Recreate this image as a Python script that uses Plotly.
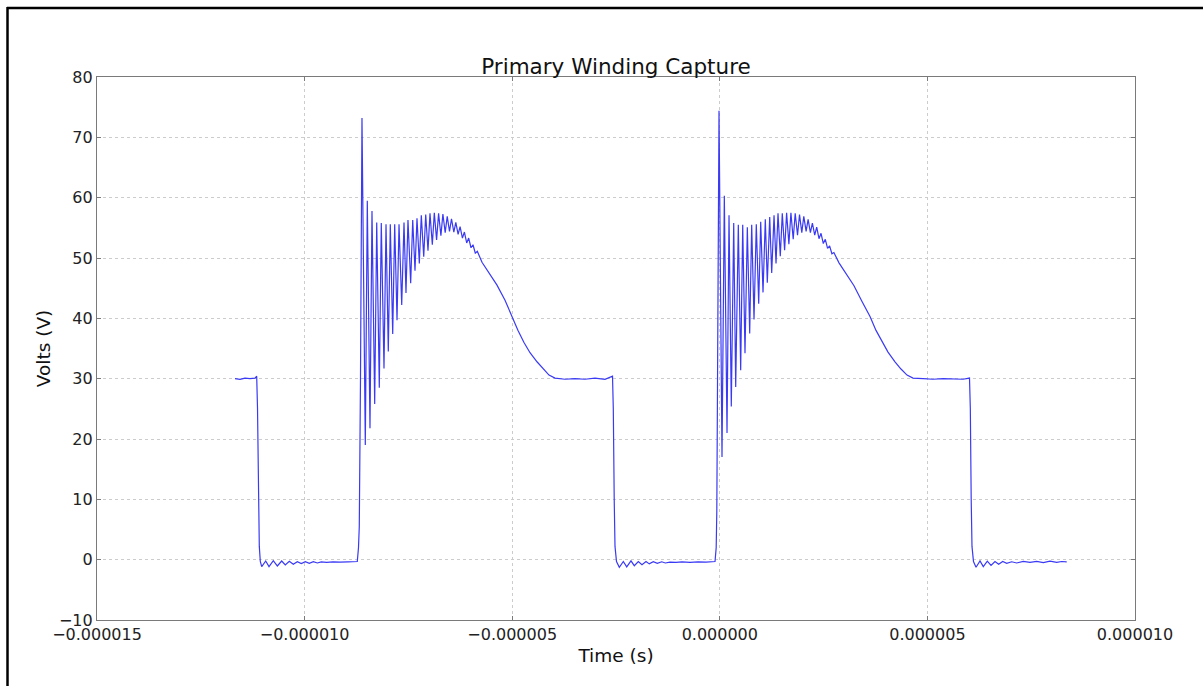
import plotly.graph_objects as go

# ---- data (time in microseconds, voltage in volts) ----
time_us = [
    -11.676, -11.556, -11.435, -11.315, -11.195, -11.154,
    -11.134, -11.115, -11.091, -11.067, -11.033,
    -10.937, -10.857, -10.754, -10.657, -10.552, -10.465, -10.368, -10.272,
    -10.176, -10.079, -9.983, -9.887, -9.790, -9.694, -9.598, -9.468,
    -9.316, -9.147, -8.955, -8.731,
    -8.702, -8.683, -8.654, -8.630, -8.618,
    -8.538, -8.490, -8.425, -8.377, -8.312, -8.263, -8.201, -8.153, -8.088,
    -8.039, -7.984, -7.936, -7.878, -7.830, -7.774, -7.726, -7.661, -7.606,
    -7.558, -7.510, -7.445, -7.396, -7.341, -7.293, -7.237, -7.189,
    -7.131, -7.083, -7.028, -6.980, -6.924, -6.876, -6.821, -6.773, -6.717,
    -6.669, -6.614, -6.565, -6.510, -6.462, -6.406, -6.358, -6.303, -6.255,
    -6.199, -6.151, -6.096, -6.048, -5.992, -5.944, -5.889, -5.840,
    -5.727, -5.535, -5.366, -5.173, -5.005, -4.860, -4.716, -4.571, -4.403,
    -4.258, -4.114, -3.969,
    -3.728, -3.487, -3.247, -3.006, -2.765, -2.584,
    -2.565, -2.543, -2.524, -2.488, -2.420,
    -2.324, -2.242, -2.139, -2.059, -1.963, -1.874, -1.777, -1.698, -1.602,
    -1.505, -1.399, -1.312, -1.199, -1.055, -0.910, -0.718, -0.525, -0.332,
    -0.115,
    -0.087, -0.072, -0.048, -0.031, -0.019,
    0.053, 0.109, 0.174, 0.222, 0.277, 0.335, 0.383, 0.446, 0.503, 0.552,
    0.607, 0.663, 0.720, 0.768, 0.824, 0.879, 0.937, 0.985, 1.041, 1.096,
    1.144, 1.202, 1.250, 1.306, 1.354, 1.402,
    1.457, 1.505, 1.561, 1.609, 1.664, 1.713, 1.768, 1.816, 1.872, 1.920,
    1.975, 2.023, 2.079, 2.127, 2.182, 2.230, 2.286, 2.334, 2.389, 2.438,
    2.493, 2.541, 2.596, 2.645, 2.700, 2.748,
    2.871, 3.064, 3.232, 3.425, 3.618, 3.762, 3.907, 4.051, 4.220, 4.364,
    4.509, 4.653,
    4.894, 5.135, 5.376, 5.617, 5.858, 6.014,
    6.034, 6.055, 6.074, 6.110, 6.171,
    6.267, 6.346, 6.443, 6.532, 6.628, 6.717, 6.814, 6.910, 7.030, 7.151,
    7.310, 7.471, 7.632, 7.792, 7.953, 8.114, 8.235, 8.355,
]

volts = [
    30.0, 29.9, 30.1, 30.0, 30.1, 30.4,
    25.0, 11.0, 2.2, -0.3, -1.16,
    -0.22, -1.16, -0.17, -1.04, -0.22, -0.88, -0.27, -0.76,
    -0.33, -0.66, -0.33, -0.60, -0.33, -0.55, -0.38, -0.45,
    -0.35, -0.42, -0.35, -0.30,
    2.0, 5.5, 30.0, 60.0, 73.2,
    19.0, 59.5, 21.8, 57.8, 25.8, 55.9, 28.5, 55.8, 31.7,
    55.6, 34.5, 55.6, 37.4, 55.6, 39.7, 55.6, 42.2, 55.9,
    44.2, 56.3, 45.8, 56.3, 47.9, 56.6, 49.1, 57.1,
    50.2, 57.2, 51.2, 57.4, 52.2, 57.5, 53.0, 57.4, 53.7,
    57.3, 54.2, 56.9, 54.4, 56.5, 54.3, 55.9, 53.9, 55.2,
    53.3, 54.3, 52.5, 53.3, 51.7, 52.2, 50.8, 51.1,
    49.3, 47.2, 45.5, 43.0, 40.3, 38.0, 36.0, 34.3, 32.8,
    31.6, 30.6, 30.1,
    29.9, 30.0, 29.9, 30.1, 29.9, 30.4,
    25.0, 10.0, 2.2, -0.3, -1.26,
    -0.30, -1.20, -0.20, -1.00, -0.30, -0.85, -0.30, -0.70, -0.35,
    -0.62, -0.35, -0.55, -0.40, -0.45, -0.35, -0.45, -0.35, -0.40,
    -0.30,
    2.0, 8.0, 35.0, 62.0, 74.4,
    17.0, 60.3, 21.0, 57.1, 25.4, 55.8, 28.6, 55.5, 31.4, 55.5,
    34.2, 55.1, 37.5, 55.5, 39.8, 55.6, 42.4, 56.0, 44.3, 56.4,
    45.9, 56.8, 47.5, 57.1, 49.1, 57.4,
    50.3, 57.4, 51.3, 57.5, 52.3, 57.5, 53.1, 57.4, 53.8, 57.2,
    54.2, 56.9, 54.4, 56.4, 54.2, 55.8, 53.8, 55.1, 53.2, 54.1,
    52.4, 53.1, 51.6, 52.0, 50.7, 50.9,
    49.2, 47.1, 45.4, 42.8, 40.3, 38.0, 36.1, 34.4, 32.8, 31.6,
    30.6, 30.1,
    30.0, 29.9, 30.0, 30.0, 29.9, 30.1,
    25.0, 10.0, 2.2, -0.3, -1.26,
    -0.20, -1.16, -0.25, -0.95, -0.30, -0.75, -0.30, -0.60, -0.35, -0.55,
    -0.30, -0.45, -0.30, -0.50, -0.25, -0.45, -0.30, -0.35,
]

x_tick_values_us = [-15, -10, -5, 0, 5, 10]
x_tick_labels = ["\u22120.000015", "\u22120.000010", "\u22120.000005",
                 "0.000000", "0.000005", "0.000010"]
y_tick_values = [-10, 0, 10, 20, 30, 40, 50, 60, 70, 80]
y_tick_labels = ["\u221210", "0", "10", "20", "30", "40", "50", "60", "70", "80"]

title_text = "Primary Winding Capture"
x_title = "Time (s)"
y_title = "Volts (V)"

# unit conversion to seconds
time_s = [t * 1e-6 for t in time_us]
x_tick_values = [t * 1e-6 for t in x_tick_values_us]

# ---- layout constants (pixels) ----
W, H = 1203, 686
L, R, T, B = 97, 68, 77, 66
plot_w = W - L - R
plot_h = H - T - B

def px_to_paper_x(px):
    return (px - L) / plot_w

def py_to_paper_y(py):
    return (H - B - py) / plot_h

font_family = "DejaVu Sans, Liberation Sans, sans-serif"

fig = go.Figure()
fig.add_trace(go.Scatter(
    x=time_s, y=volts, mode="lines",
    line=dict(color="#3a3af5", width=1.2),
    showlegend=False, hoverinfo="skip",
))

axis_common = dict(
    showline=True, linecolor="#7a7a7a", linewidth=1.3, mirror="ticks",
    ticks="inside", ticklen=4, tickcolor="#7a7a7a", tickwidth=1,
    showgrid=True, gridcolor="#cccccc", gridwidth=1, griddash="dot",
    zeroline=False,
    tickfont=dict(family=font_family, size=16, color="#222222"),
)

fig.update_xaxes(
    range=[x_tick_values[0], x_tick_values[-1]],
    tickmode="array", tickvals=x_tick_values, ticktext=x_tick_labels,
    title=dict(text=x_title, font=dict(family=font_family, size=18.5, color="#111111"),
               standoff=5),
    **axis_common,
)
fig.update_yaxes(
    range=[y_tick_values[0], y_tick_values[-1]],
    tickmode="array", tickvals=y_tick_values, ticktext=y_tick_labels,
    title=dict(text=y_title, font=dict(family=font_family, size=18.5, color="#111111"),
               standoff=3),
    **axis_common,
)

# outer frame of the screenshot (top and left edges)
frame_shapes = [
    dict(type="line", xref="paper", yref="paper",
         x0=px_to_paper_x(7), x1=px_to_paper_x(W + 5),
         y0=py_to_paper_y(8), y1=py_to_paper_y(8),
         line=dict(color="#000000", width=2.5)),
    dict(type="line", xref="paper", yref="paper",
         x0=px_to_paper_x(7.5), x1=px_to_paper_x(7.5),
         y0=py_to_paper_y(7), y1=py_to_paper_y(H + 5),
         line=dict(color="#000000", width=2.5)),
]

fig.update_layout(
    width=W, height=H,
    margin=dict(l=L, r=R, t=T, b=B, pad=0),
    paper_bgcolor="white", plot_bgcolor="white",
    title=dict(text=title_text, x=0.5, xref="paper", xanchor="center",
               y=1, yref="paper", yanchor="bottom", pad=dict(b=3),
               font=dict(family=font_family, size=21.5, color="#111111")),
    shapes=frame_shapes,
    font=dict(family=font_family),
)

fig.write_html("out.html", config={"displayModeBar": False},
               post_script="document.body.style.margin='0';")
